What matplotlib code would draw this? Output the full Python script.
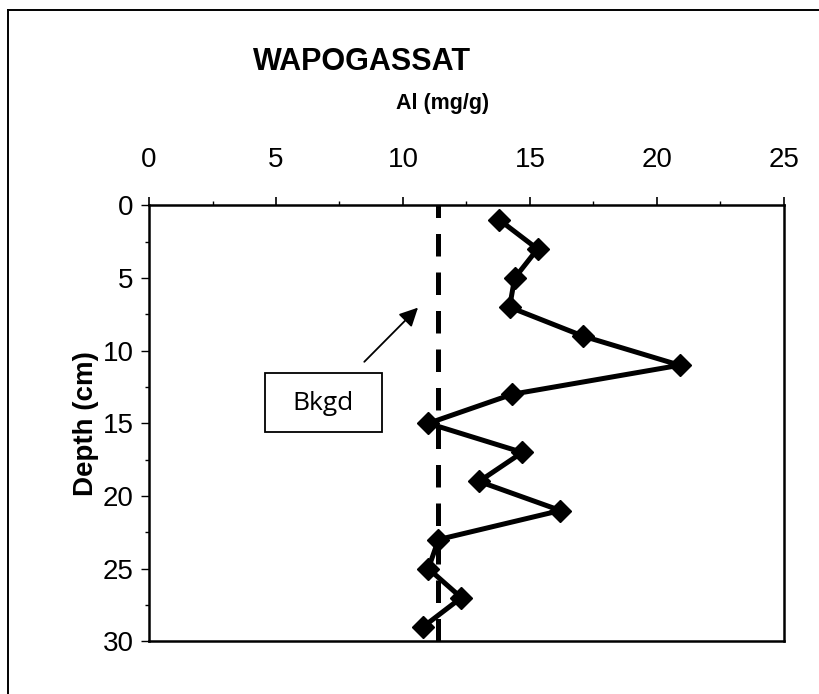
"""
plot.py
"""

import matplotlib
matplotlib.use('Agg')
from matplotlib import pyplot as plt
from matplotlib.lines import Line2D
from matplotlib.patches import Rectangle

depth = [1, 3, 5, 7, 9, 11, 13, 15, 17, 19, 21, 23, 25, 27, 29]
al = [13.8, 15.3, 14.4, 14.2, 17.1, 20.9, 14.3, 11.0, 14.7, 13.0, 16.2, 11.4, 11.0, 12.3, 10.8]
background = 11.4
xticks = [0, 5, 10, 15, 20, 25]
yticks = [0, 5, 10, 15, 20, 25, 30]

plt.rcParams['font.family'] = ['Liberation Sans', 'DejaVu Sans']

fig = plt.figure(figsize=(8.19, 6.94), dpi=100)
ax = fig.add_axes([0.182, 0.076, 0.775, 0.628])

ax.plot(al, depth, color='black', lw=3.6, marker='D', markersize=11,
        markerfacecolor='black', markeredgecolor='black', zorder=3)
ax.axvline(background, color='black', lw=3.6, dashes=(4.5, 3.2), zorder=2)

ax.set_xlim(0, 25)
ax.set_ylim(30, 0)
ax.xaxis.tick_top()
ax.set_xticks(xticks)
ax.set_xticks([x + 2.5 for x in xticks[:-1]], minor=True)
ax.set_yticks(yticks)
ax.set_yticks([y + 2.5 for y in yticks[:-1]], minor=True)
ax.tick_params(axis='x', which='major', direction='out', length=6, width=1.2,
               labelsize=20, pad=17)
ax.tick_params(axis='x', which='minor', direction='out', length=3, width=1)
ax.tick_params(axis='y', which='major', direction='out', length=6, width=1,
               labelsize=20, pad=5)
ax.tick_params(axis='y', which='minor', direction='out', length=3, width=1)
for s in ax.spines.values():
  s.set_linewidth(1.8)

ax.set_ylabel('Depth (cm)', fontsize=20, fontweight='bold', labelpad=3)

# Bkgd callout
ax.annotate('', xy=(10.67, 6.9), xytext=(8.4, 10.9),
            arrowprops=dict(arrowstyle='-|>', color='black', lw=1.3,
                            mutation_scale=28))
ax.add_patch(Rectangle((4.57, 11.55), 4.6, 4.05, fc='white', ec='black', lw=1.3,
                       zorder=4))
ax.text(6.87, 13.6, 'Bkgd', fontsize=19, family=['Open Sans', 'DejaVu Sans'],
        ha='center', va='center', zorder=5)

fig.text(0.442, 0.91, 'WAPOGASSAT', fontsize=22, fontweight='bold',
         ha='center', va='center')
fig.text(0.54, 0.851, 'Al (mg/g)', fontsize=15.5, fontweight='bold',
         ha='center', va='center')

# outer frame (left and top edges only)
fig.add_artist(Line2D([0.0098, 0.0098], [0.0, 0.986], color='black', lw=1.4,
                      transform=fig.transFigure))
fig.add_artist(Line2D([0.0098, 1.0], [0.986, 0.986], color='black', lw=1.4,
                      transform=fig.transFigure))

fig.savefig('out.png', dpi=100)
